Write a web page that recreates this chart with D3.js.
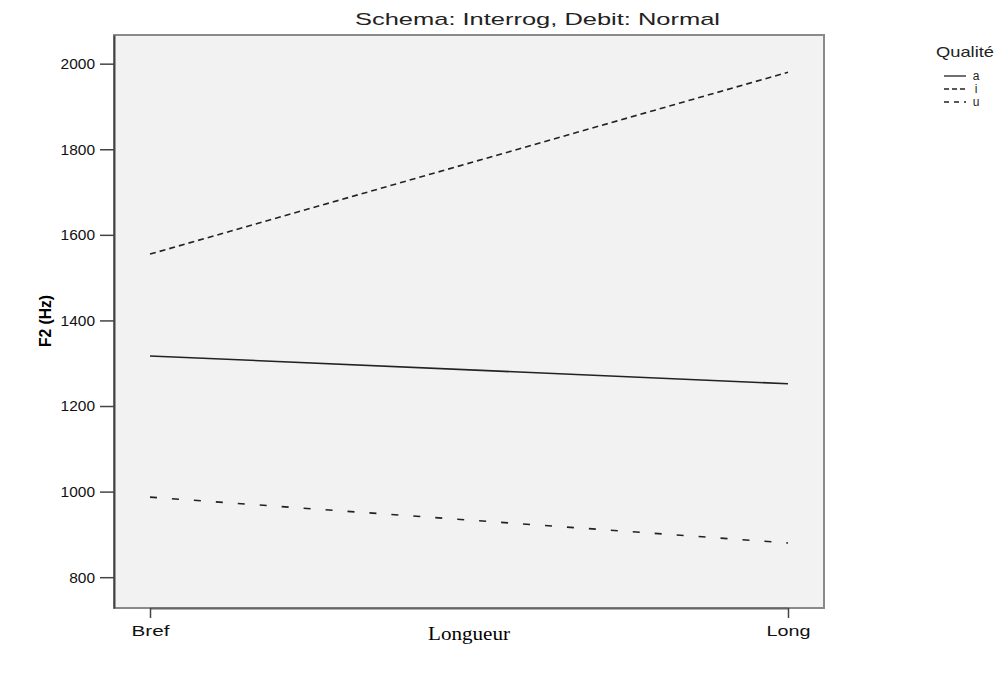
<!DOCTYPE html>
<html><head><meta charset="utf-8">
<script src="https://cdn.jsdelivr.net/npm/d3@7"></script>
<style>body{margin:0;background:#fff}svg{display:block}</style>
</head><body>
<svg id="c" width="997" height="673"></svg>
<script>
const categories = ["Bref", "Long"];
const seriesNames = ["a", "i", "u"];
const valuesA = [1317, 1252];
const valuesI = [1555, 1980];
const valuesU = [987, 880];
const yTicks = [800, 1000, 1200, 1400, 1600, 1800, 2000];
const dashes = {a: null, i: "6,4", u: "7,15"};

const series = [
  {name: "a", values: valuesA},
  {name: "i", values: valuesI},
  {name: "u", values: valuesU}
];

const sans = "Liberation Sans, Arial, sans-serif";
const svg = d3.select("#c");
const L = 114, R = 824, T = 35, B = 608;

const x = d3.scalePoint().domain(categories).range([150, 788]);
const y = d3.scaleLinear().domain([728, 2067]).range([B, T]);

svg.append("rect").attr("x", L).attr("y", T).attr("width", R - L).attr("height", B - T)
  .attr("fill", "#f2f2f2").attr("stroke", "#8a8a8a").attr("stroke-width", 2);

// y axis
const ya = svg.append("g").attr("transform", `translate(${L},0)`)
  .call(d3.axisLeft(y).tickValues(yTicks).tickFormat(d3.format("d")).tickSize(14).tickSizeOuter(0));
ya.select(".domain").attr("stroke", "#444").attr("stroke-width", 2);
ya.selectAll(".tick line").attr("stroke", "#444").attr("stroke-width", 1.5);
ya.selectAll(".tick text").attr("font-family", sans).attr("font-size", 14).attr("fill", "#111")
  .attr("x", -19).attr("dy", "0.35em")
  .attr("textLength", d => String(d).length * 8.6).attr("lengthAdjust", "spacingAndGlyphs");

// x axis
const xa = svg.append("g").attr("transform", `translate(0,${B})`)
  .call(d3.axisBottom(x).tickSize(10).tickSizeOuter(0));
xa.select(".domain").attr("stroke", "#666").attr("stroke-width", 2);
xa.selectAll(".tick line").attr("stroke", "#444").attr("stroke-width", 1.5);
xa.selectAll(".tick text").attr("font-family", sans).attr("font-size", 14).attr("fill", "#111")
  .attr("y", 28).attr("dy", 0)
  .attr("textLength", d => d === "Bref" ? 38 : 44).attr("lengthAdjust", "spacingAndGlyphs");

const line = d3.line().x((d, i) => x(categories[i])).y(d => y(d));
svg.selectAll("path.series").data(series).enter().append("path")
  .attr("class", "series")
  .attr("d", d => line(d.values))
  .attr("fill", "none").attr("stroke", "#222").attr("stroke-width", 1.6)
  .attr("stroke-dasharray", d => dashes[d.name]);

// titles
svg.append("text").attr("x", 355).attr("y", 25)
  .attr("font-family", sans).attr("font-size", 17).attr("fill", "#222")
  .attr("textLength", 365).attr("lengthAdjust", "spacingAndGlyphs")
  .text("Schema: Interrog, Debit: Normal");
svg.append("text").attr("x", 428).attr("y", 640)
  .attr("font-family", "Liberation Serif, Times New Roman, serif").attr("font-size", 18).attr("fill", "#000")
  .attr("textLength", 82).attr("lengthAdjust", "spacingAndGlyphs")
  .text("Longueur");
svg.append("text").attr("transform", "translate(51,321) rotate(-90)").attr("text-anchor", "middle")
  .attr("font-family", sans).attr("font-size", 16).attr("font-weight", "bold").attr("fill", "#000")
  .attr("textLength", 52).attr("lengthAdjust", "spacingAndGlyphs")
  .text("F2 (Hz)");

// legend
const lg = svg.append("g");
lg.append("text").attr("x", 936).attr("y", 57).attr("font-family", sans)
  .attr("font-size", 15).attr("fill", "#222")
  .attr("textLength", 58).attr("lengthAdjust", "spacingAndGlyphs").text("Qualité");
const items = lg.selectAll("g.item").data(seriesNames).enter().append("g")
  .attr("transform", (d, i) => `translate(944,${76 + i * 13})`);
items.append("line").attr("x1", 0).attr("x2", 22).attr("y1", 0).attr("y2", 0)
  .attr("stroke", "#222").attr("stroke-width", 1.3).attr("stroke-dasharray", d => d === "u" ? "5,5" : (d === "i" ? "5,3" : null));
items.append("text").attr("x", 32).attr("y", 4).attr("font-family", sans).attr("text-anchor", "middle")
  .attr("font-size", 12).attr("fill", "#222").text(d => d);
</script>
</body></html>
